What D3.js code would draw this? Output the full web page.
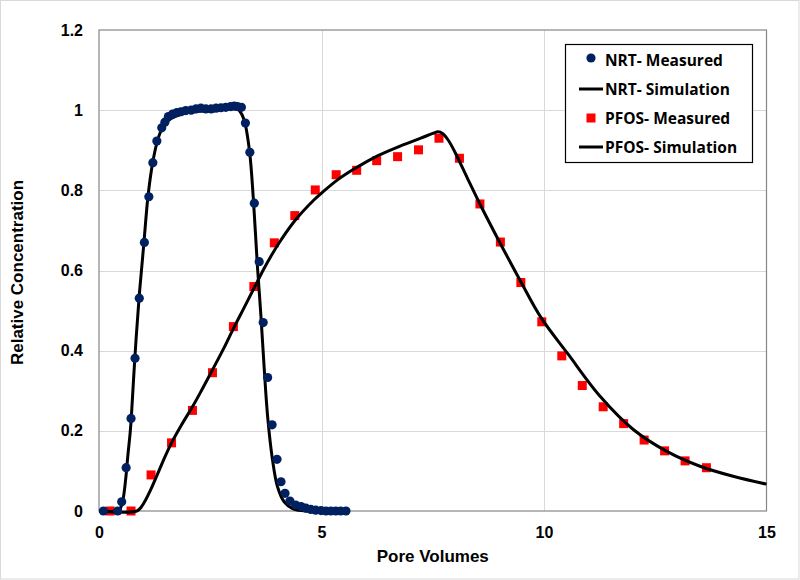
<!DOCTYPE html>
<html>
<head>
<meta charset="utf-8">
<script src="https://cdn.jsdelivr.net/npm/d3@7"></script>
<style>
  body { margin: 0; background: #fff; }
  svg { display: block; }
</style>
</head>
<body>
<svg id="chart" width="800" height="580"></svg>
<script>
// ---- Data ----
const xTicks = [0, 5, 10, 15];
const yTicks = [0, 0.2, 0.4, 0.6, 0.8, 1, 1.2];
const xTickLabels = ["0", "5", "10", "15"];
const yTickLabels = ["0", "0.2", "0.4", "0.6", "0.8", "1", "1.2"];
const legendLabels = ["NRT- Measured", "NRT- Simulation", "PFOS- Measured", "PFOS- Simulation"];

const nrtMeasuredX = [0.1, 0.42, 0.51, 0.61, 0.72, 0.81, 0.905, 1.02, 1.12, 1.21, 1.30, 1.41, 1.48, 1.56,
  1.65, 1.75, 1.84, 1.95, 2.07, 2.18, 2.29, 2.40, 2.52, 2.63, 2.74, 2.85, 2.96, 3.04, 3.11, 3.20,
  3.29, 3.39, 3.49, 3.60, 3.69, 3.79, 3.89, 4.00, 4.09, 4.18, 4.29,
  4.42, 4.54, 4.65, 4.76, 4.87, 4.99, 5.10, 5.21, 5.32, 5.43, 5.55];
const nrtMeasuredY = [0, 0, 0.023, 0.108, 0.231, 0.381, 0.531, 0.670, 0.784, 0.869, 0.923, 0.956, 0.970, 0.984,
  0.990, 0.994, 0.996, 0.999, 1.000, 1.003, 1.005, 1.003, 1.003, 1.005, 1.006, 1.007, 1.009, 1.010, 1.009, 1.007,
  0.968, 0.895, 0.768, 0.622, 0.470, 0.333, 0.215, 0.129, 0.073, 0.044, 0.025,
  0.015, 0.011, 0.007, 0.004, 0.002, 0.001, 0, 0, 0, 0, 0];

const nrtSimX = [0, 0.4, 0.46, 0.5, 0.55, 0.6, 0.65, 0.7, 0.725, 0.805, 0.9, 1.01, 1.1, 1.2, 1.3, 1.4, 1.5, 1.6,
  1.8, 2.0, 2.5, 2.9, 3.05, 3.15, 3.26, 3.38, 3.47, 3.56, 3.64, 3.71, 3.79, 3.90, 4.01, 4.16, 4.39, 4.69, 5.6];
const nrtSimY = [0, 0, 0.004, 0.012, 0.035, 0.08, 0.14, 0.195, 0.231, 0.381, 0.531, 0.67, 0.784, 0.865, 0.918, 0.95, 0.967, 0.978,
  0.988, 0.994, 1.0, 1.006, 1.008, 1.0, 0.976, 0.90, 0.776, 0.61, 0.485, 0.36, 0.235, 0.127, 0.061, 0.023, 0.004, 0, 0];

const pfosMeasuredX = [0.25, 0.72, 1.17, 1.63, 2.10, 2.55, 3.02, 3.48, 3.94, 4.40, 4.86, 5.33, 5.79, 6.24, 6.71, 7.18, 7.64,
  8.10, 8.56, 9.02, 9.48, 9.95, 10.40, 10.86, 11.33, 11.79, 12.25, 12.71, 13.17, 13.65];
const pfosMeasuredY = [0, 0, 0.090, 0.170, 0.251, 0.345, 0.460, 0.560, 0.669, 0.737, 0.801, 0.839, 0.850, 0.874, 0.884, 0.901, 0.930,
  0.880, 0.766, 0.671, 0.570, 0.472, 0.387, 0.313, 0.260, 0.218, 0.177, 0.150, 0.125, 0.108];

const pfosSimX = [0, 0.85, 0.95, 1.05, 1.17, 1.3, 1.45, 1.63, 1.85, 2.1, 2.3, 2.55, 2.8, 3.02, 3.25, 3.48, 3.7, 3.86, 4.09,
  4.4, 4.84, 5.0, 5.36, 5.73, 6.26, 6.78, 7.23, 7.5, 7.62, 7.72, 7.85, 8.0, 8.28, 8.56, 9.03, 9.48, 9.93,
  10.53, 11.27, 12.02, 12.77, 13.52, 14.27, 15.0];
const pfosSimY = [0, 0, 0.01, 0.028, 0.055, 0.088, 0.127, 0.17, 0.214, 0.26, 0.3, 0.352, 0.405, 0.455, 0.505, 0.555, 0.603, 0.635, 0.676,
  0.724, 0.777, 0.793, 0.826, 0.853, 0.886, 0.911, 0.930, 0.942, 0.946, 0.942, 0.925, 0.895, 0.83, 0.766, 0.665, 0.572, 0.483,
  0.393, 0.285, 0.202, 0.148, 0.111, 0.086, 0.067];

// ---- Layout ----
const svg = d3.select("#chart");
const W = 800, H = 580;
const plot = { left: 99, right: 766.5, top: 30, bottom: 511 };

const x = d3.scaleLinear().domain([0, 15]).range([plot.left, plot.right]);
const y = d3.scaleLinear().domain([0, 1.2]).range([plot.bottom, plot.top]);

// outer chart border
svg.append("rect").attr("x", 0.5).attr("y", 0.5).attr("width", W - 1.5).attr("height", H - 1.5)
  .attr("fill", "#fff").attr("stroke", "#d9d9d9").attr("stroke-width", 1);

// gridlines
const g = svg.append("g");
g.selectAll("line.hgrid").data(yTicks.slice(1, -1)).join("line")
  .attr("x1", plot.left).attr("x2", plot.right)
  .attr("y1", d => Math.round(y(d)) + 0.5).attr("y2", d => Math.round(y(d)) + 0.5)
  .attr("stroke", "#d9d9d9").attr("stroke-width", 1);
g.selectAll("line.vgrid").data(xTicks.slice(1, -1)).join("line")
  .attr("y1", plot.top).attr("y2", plot.bottom)
  .attr("x1", d => Math.round(x(d)) + 0.5).attr("x2", d => Math.round(x(d)) + 0.5)
  .attr("stroke", "#d9d9d9").attr("stroke-width", 1);

// plot border
svg.append("rect").attr("x", plot.left).attr("y", plot.top)
  .attr("width", plot.right - plot.left).attr("height", plot.bottom - plot.top)
  .attr("fill", "none").attr("stroke", "#868686").attr("stroke-width", 1.2);

// axes (labels only, via d3 axis)
const xAxis = d3.axisBottom(x).tickValues(xTicks).tickFormat((d, i) => xTickLabels[i]).tickSize(0).tickPadding(16);
const yAxis = d3.axisLeft(y).tickValues(yTicks).tickFormat((d, i) => yTickLabels[i]).tickSize(0).tickPadding(16);
const gx = svg.append("g").attr("transform", `translate(0,${plot.bottom})`).call(xAxis);
const gy = svg.append("g").attr("transform", `translate(${plot.left},0)`).call(yAxis);
[gx, gy].forEach(a => {
  a.select(".domain").remove();
  a.selectAll("text").attr("font-family", "'Liberation Sans', Arial, sans-serif")
    .attr("font-weight", "bold").attr("font-size", 16).attr("fill", "#000");
});

// axis titles
svg.append("text").attr("x", (plot.left + plot.right) / 2).attr("y", 562)
  .attr("text-anchor", "middle").attr("font-family", "'Liberation Sans', Arial, sans-serif")
  .attr("font-weight", "bold").attr("font-size", 17).text("Pore Volumes");
svg.append("text").attr("transform", `translate(23,${(plot.top + plot.bottom) / 2 + 2}) rotate(-90)`)
  .attr("text-anchor", "middle").attr("font-family", "'Liberation Sans', Arial, sans-serif")
  .attr("font-weight", "bold").attr("font-size", 17).text("Relative Concentration");

// lines
const line = d3.line().x(d => x(d[0])).y(d => y(d[1])).curve(d3.curveCatmullRom.alpha(0.5));
const nrtSim = nrtSimX.map((v, i) => [v, nrtSimY[i]]);
const pfosSim = pfosSimX.map((v, i) => [v, pfosSimY[i]]);
const nrtMeas = nrtMeasuredX.map((v, i) => [v, nrtMeasuredY[i]]);
const pfosMeas = pfosMeasuredX.map((v, i) => [v, pfosMeasuredY[i]]);

// PFOS squares
svg.append("g").selectAll("rect").data(pfosMeas).join("rect")
  .attr("x", d => x(d[0]) - 4.5).attr("y", d => y(d[1]) - 4.5)
  .attr("width", 9).attr("height", 9).attr("fill", "#ff0000");

svg.append("path").datum(pfosSim).attr("d", line)
  .attr("fill", "none").attr("stroke", "#000").attr("stroke-width", 3).attr("stroke-linejoin", "round");
svg.append("path").datum(nrtSim).attr("d", line)
  .attr("fill", "none").attr("stroke", "#000").attr("stroke-width", 3).attr("stroke-linejoin", "round");

// NRT circles
svg.append("g").selectAll("circle").data(nrtMeas).join("circle")
  .attr("cx", d => x(d[0])).attr("cy", d => y(d[1])).attr("r", 4.6).attr("fill", "#002060");

// legend
const lg = svg.append("g");
lg.append("rect").attr("x", 565.5).attr("y", 44.5).attr("width", 187).attr("height", 118)
  .attr("fill", "#fff").attr("stroke", "#000").attr("stroke-width", 1.2);
const rowsY = [60, 89, 118, 147];
const txtX = 605;
legendLabels.forEach((lab, i) => {
  const cy = rowsY[i];
  if (i === 0) {
    lg.append("circle").attr("cx", 591).attr("cy", cy - 2).attr("r", 4.6).attr("fill", "#002060");
  } else if (i === 2) {
    lg.append("rect").attr("x", 586.5).attr("y", cy - 4.5).attr("width", 9).attr("height", 9).attr("fill", "#ff0000");
  } else {
    lg.append("line").attr("x1", 579).attr("x2", 603).attr("y1", cy).attr("y2", cy)
      .attr("stroke", "#000").attr("stroke-width", 3);
  }
  lg.append("text").attr("x", txtX).attr("y", cy + 5.5)
    .attr("font-family", "'Open Sans', 'Noto Sans', sans-serif").attr("font-weight", "bold")
    .attr("font-size", 15.5).attr("fill", "#000").text(lab);
});
</script>
</body>
</html>
